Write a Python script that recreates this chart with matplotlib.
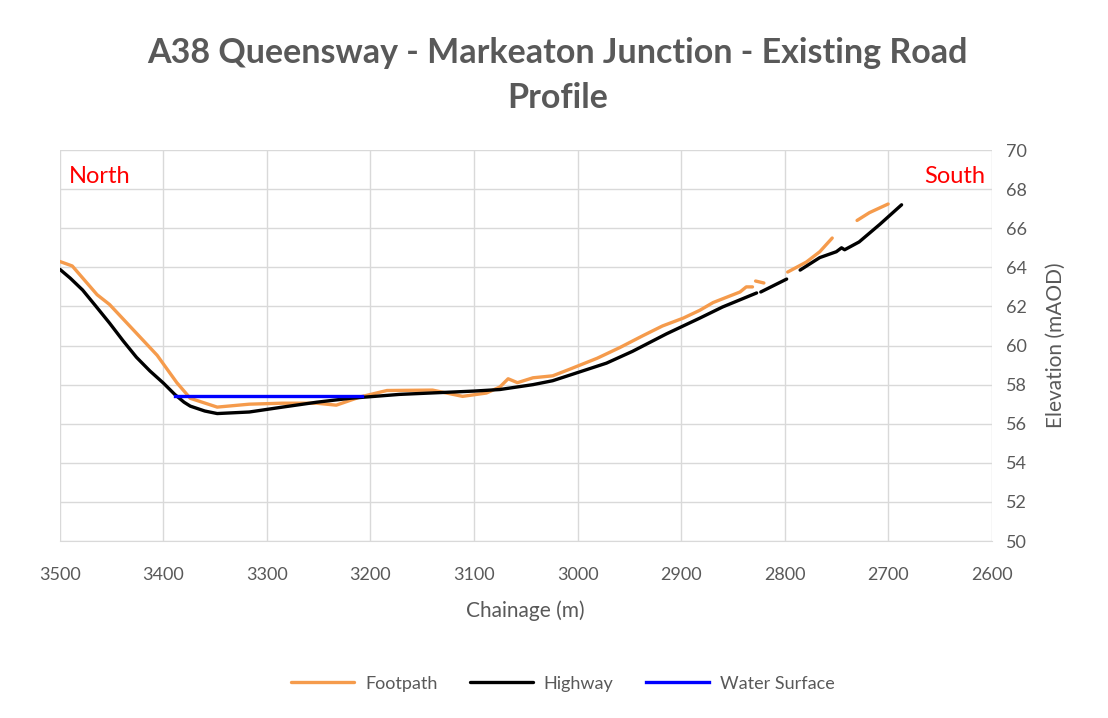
import numpy as np
import matplotlib.pyplot as plt

# chainage (m) / elevation (mAOD); nan = break in the line
foot_ch = [3500, 3488, 3464, 3452, 3429, 3406, 3387, 3374, 3348, 3317, 3285, 3252,
           3233, 3210, 3184, 3140, 3111, 3088, 3075, 3067, 3058, 3043, 3024, 3007,
           2981, 2959, 2937, 2918, 2898, 2882, 2869, 2843, 2837, 2831, 2830,
           2828, 2820, 2819,
           2797, 2779, 2766, 2754, 2753,
           2730, 2718, 2700]
foot_el = [64.3, 64.07, 62.6, 62.1, 60.8, 59.5, 58.1, 57.3, 56.85, 57.0, 57.05, 57.05,
           56.95, 57.37, 57.7, 57.72, 57.4, 57.57, 57.88, 58.3, 58.1, 58.35, 58.45, 58.8,
           59.35, 59.9, 60.5, 61.0, 61.4, 61.8, 62.2, 62.74, 63.0, 63.0, np.nan,
           63.3, 63.2, np.nan,
           63.76, 64.27, 64.8, 65.5, np.nan,
           66.4, 66.8, 67.24]

hwy_ch = [3500, 3490, 3478, 3465, 3452, 3439, 3426, 3413, 3400, 3389, 3380, 3374,
          3360, 3348, 3317, 3285, 3252, 3220,
          3172, 3100, 3075, 3043, 3024, 2998, 2972, 2947, 2914, 2882, 2860, 2827, 2825,
          2823, 2798, 2792,
          2785, 2766, 2750, 2745, 2742, 2728, 2708, 2687]
hwy_el = [63.9, 63.45, 62.84, 62.0, 61.15, 60.25, 59.4, 58.7, 58.08, 57.5, 57.1, 56.9,
          56.65, 56.52, 56.6, 56.85, 57.1, 57.3,
          57.5, 57.67, 57.75, 58.0, 58.2, 58.65, 59.1, 59.7, 60.6, 61.4, 61.97, 62.69, np.nan,
          62.74, 63.4, np.nan,
          63.86, 64.5, 64.8, 65.0, 64.9, 65.3, 66.2, 67.2]

water_ch = [3389, 3208]
water_el = [57.4, 57.4]

plt.rcParams['font.family'] = ['Lato', 'DejaVu Sans']
grey = '#595959'

fig = plt.figure(figsize=(11.08, 7.18), dpi=100)
ax = fig.add_axes([0.054, 0.2465, 0.841, 0.5445])

ax.plot(foot_ch, foot_el, color='#F59B4C', lw=2.4, label='Footpath', solid_capstyle='round')
ax.plot(hwy_ch, hwy_el, color='black', lw=2.4, label='Highway', solid_capstyle='round')
ax.plot(water_ch, water_el, color='#0000FF', lw=2.4, label='Water Surface')

ax.set_xlim(3500, 2600)
ax.set_ylim(50, 70)
ax.set_xticks(range(3500, 2599, -100))
ax.set_yticks(range(50, 71, 2))
ax.yaxis.tick_right()
ax.yaxis.set_label_position('right')
ax.grid(True, color='#D9D9D9', lw=1)
ax.set_axisbelow(True)
for s in ['top', 'left', 'right']:
    ax.spines[s].set_visible(False)
ax.spines['bottom'].set_color('#D9D9D9')
ax.tick_params(axis='x', length=0, labelsize=13, colors=grey, pad=19)
ax.tick_params(axis='y', length=0, labelsize=13, colors=grey, pad=10)

ax.set_xlabel('Chainage (m)', fontsize=15, color=grey, labelpad=12)
ax.set_ylabel('Elevation (mAOD)', fontsize=15, color=grey, labelpad=14)

ax.text(0.01, 0.96, 'North', transform=ax.transAxes, color='red', fontsize=17, va='top')
ax.text(0.993, 0.96, 'South', transform=ax.transAxes, color='red', fontsize=17,
        va='top', ha='right')

fig.text(0.503, 0.895, 'A38 Queensway - Markeaton Junction - Existing Road\nProfile',
         ha='center', va='center', fontsize=24.5, fontweight='bold', color=grey,
         linespacing=1.5)

fig.legend(loc='center', bbox_to_anchor=(0.508, 0.048), ncol=3, frameon=False,
           fontsize=13, handlelength=3.5, handletextpad=0.6, columnspacing=1.8,
           labelcolor=grey)

fig.savefig('out.png', dpi=100)
